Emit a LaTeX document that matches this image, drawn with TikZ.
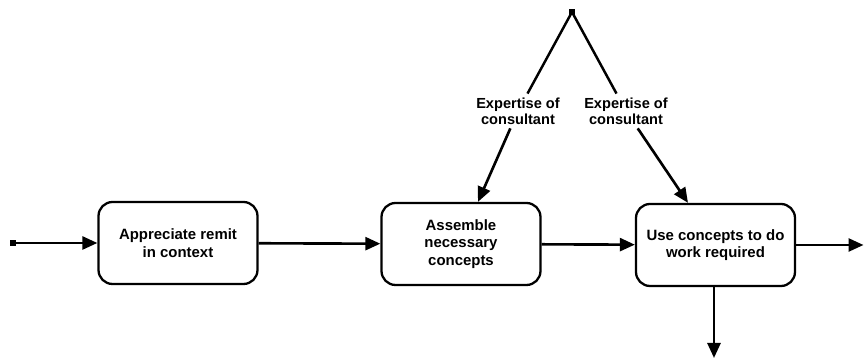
\documentclass[tikz,border=0pt]{standalone}
\usepackage{fontspec}
\setmainfont{Liberation Sans}
\usetikzlibrary{arrows.meta, positioning}

\begin{document}
\begin{tikzpicture}[
  proc/.style={draw, line width=1.3pt, rounded corners=8pt, minimum width=3.18cm, minimum height=1.64cm, align=center, font=\fontsize{8.5}{10}\selectfont\bfseries},
  expert/.style={align=center, inner sep=2pt, font=\fontsize{8.3}{9.3}\selectfont\bfseries},
  flow/.style={line width=1.5pt, -{Triangle[length=0.3cm, width=0.26cm]}},
  feed/.style={line width=1.4pt},
  dot/.style={fill, inner sep=0pt, minimum size=0.11cm}
]
  \useasboundingbox (0,0) rectangle (17.28,7.2);

  % Activities
  \node[proc] (remit) at (3.56,2.34) {Appreciate remit\\in context};
  \node[proc] (assemble) at (9.22,2.32) {Assemble\\necessary\\concepts};
  \node[proc] (use) at (14.31,2.30) {Use concepts to do\\work required};

  % Ends of the flow
  \node[dot] (start) at (0.26,2.34) {};
  \coordinate (out) at (17.27,2.30);
  \coordinate (down) at (14.28,0.04);

  % Expertise feeding in from the top
  \node[dot] (apex) at (11.44,6.96) {};
  \node[expert] (exp1) at (10.36,4.98) {Expertise of\\consultant};
  \node[expert] (exp2) at (12.52,4.98) {Expertise of\\consultant};

  % Main flow
  \draw[flow] (start.center) -- (remit);
  \draw[flow] (remit) -- (assemble);
  \draw[flow] (assemble) -- (use);
  \draw[flow] (use.east |- out) -- (out);
  \draw[flow] (use.south -| down) -- (down);

  % Expertise lines
  \draw[feed] (apex.center) -- (exp1);
  \draw[feed] (apex.center) -- (exp2);
  \draw[flow] (exp1) -- ([xshift=0.34cm]assemble.north);
  \draw[flow] (exp2) -- ([xshift=-0.55cm]use.north);
\end{tikzpicture}
\end{document}
